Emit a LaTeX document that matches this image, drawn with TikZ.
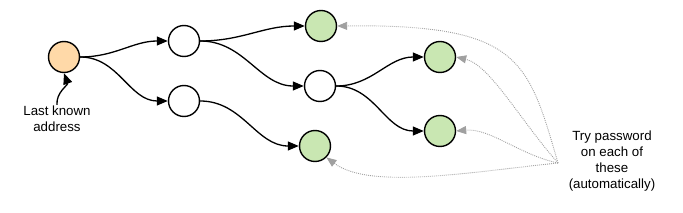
\documentclass[tikz,border=0pt]{standalone}
\usepackage{fontspec}
\setmainfont{Liberation Sans}
\usetikzlibrary{arrows.meta}
\definecolor{orangefill}{RGB}{255,217,168}
\definecolor{greenfill}{RGB}{201,231,178}
\definecolor{dotgray}{RGB}{160,160,160}
\begin{document}
\begin{tikzpicture}[x=1pt,y=-1pt,
  circ/.style={circle,draw=black,line width=1.4pt,minimum size=31pt,inner sep=0pt},
  startnode/.style={circ,fill=orangefill},
  plainnode/.style={circ,fill=white},
  goalnode/.style={circ,fill=greenfill},
  link/.style={line width=1.3pt,-{Triangle[length=11pt,width=9pt]},out=0,in=180},
  hint/.style={draw=dotgray,line width=0.9pt,dash pattern=on 0.9pt off 1.1pt,-{Triangle[length=10pt,width=8pt]},dotgray},
  lbl/.style={align=center,font=\fontsize{13.3}{16}\selectfont,inner sep=0pt}
]
\useasboundingbox (0,0) rectangle (683,213);
\node[startnode] (a) at (64,57) {};
\node[plainnode] (b) at (184,41) {};
\node[plainnode] (c) at (184,101) {};
\node[goalnode] (g1) at (321,26) {};
\node[plainnode] (d) at (320,86) {};
\node[goalnode] (g4) at (315,146) {};
\node[goalnode] (g2) at (440,57) {};
\node[goalnode] (g3) at (440,131) {};
\node[lbl] (la) at (57,119) {Last known\\address};
\node[lbl] (lt) at (612,161) {Try password\\on each of\\these\\(automatically)};
\coordinate (p) at (558,163);

\draw[link] (a) to (b);
\draw[link] (a) to (c);
\draw[link] (b) to (g1);
\draw[link] (b) to (d);
\draw[link] (c) to (g4);
\draw[link] (d) to (g2);
\draw[link] (d) to (g3);
\draw[line width=1.3pt,-{Triangle[length=11pt,width=9pt]}] (la.north) ++(0,-1) to[out=95,in=-70] (a.south);

\draw[hint] (p) .. controls (528,60) and (520,24) .. (g1.east);
\draw[hint] (p) .. controls (520,120) and (490,65) .. (g2.east);
\draw[hint] (p) .. controls (520,155) and (490,128) .. (g3.east);
\draw[hint] (p) .. controls (470,172) and (370,190) .. (g4.south east);
\end{tikzpicture}
\end{document}
